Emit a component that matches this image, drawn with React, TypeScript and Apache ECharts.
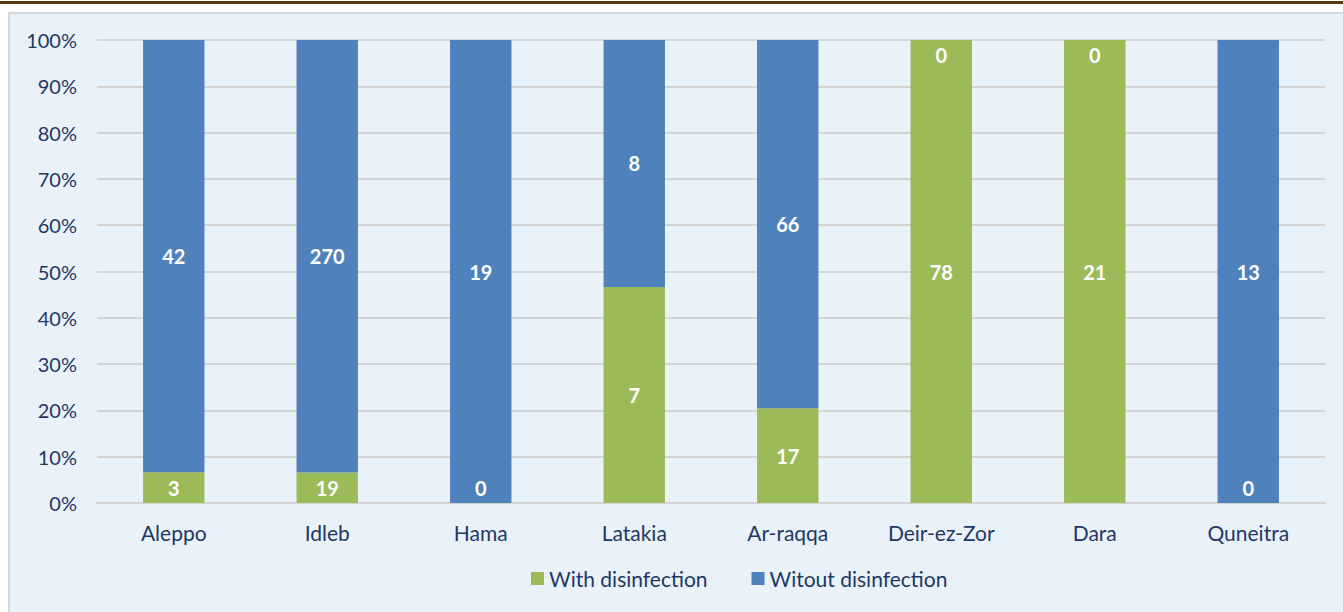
import React, { useEffect, useRef } from "react";
import * as echarts from "echarts";

const categories = ["Aleppo", "Idleb", "Hama", "Latakia", "Ar-raqqa", "Deir-ez-Zor", "Dara", "Quneitra"];
const withDisinfection = [3, 19, 0, 7, 17, 78, 21, 0];
const withoutDisinfection = [42, 270, 19, 8, 66, 0, 0, 13];
const yTicks = [0, 10, 20, 30, 40, 50, 60, 70, 80, 90, 100];

const GREEN = "#9bbb59";
const BLUE = "#4f81bd";
const TEXT = "#1f3864";
const FONT = "Lato, 'Open Sans', sans-serif";

function share(a: number, b: number) {
  const t = a + b;
  return t === 0 ? 0 : (a / t) * 100;
}

export default function App() {
  const ref = useRef<HTMLDivElement>(null);
  useEffect(() => {
    document.body.style.margin = "0";
    if (!ref.current) return;
    const chart = echarts.init(ref.current, undefined, { renderer: "svg" });
    const mk = (vals: number[], others: number[], zeroPos: string) =>
      vals.map((v, i) => ({
        value: share(v, others[i]),
        raw: v,
        label: v === 0 ? { position: zeroPos, distance: 5 } : undefined,
      }));
    const labelBase = {
      show: true,
      position: "inside",
      color: "#ffffff",
      fontWeight: "bold",
      fontSize: 20,
      fontFamily: FONT,
      formatter: (p: any) => String(p.data.raw),
    };
    chart.setOption({
      animation: false,
      grid: { left: 97, right: 18, top: 40, bottom: 109, containLabel: false },
      legend: {
        data: ["With disinfection", "Witout disinfection"],
        bottom: 18,
        left: 526,
        itemWidth: 13,
        itemHeight: 13,
        itemGap: 44,
        icon: "rect",
        textStyle: { color: TEXT, fontSize: 21, fontFamily: FONT },
      },
      xAxis: {
        type: "category",
        data: categories,
        axisTick: { show: false },
        axisLine: { lineStyle: { color: "#d4d4d4", width: 2 } },
        axisLabel: { color: TEXT, fontSize: 21, fontFamily: FONT, margin: 19 },
      },
      yAxis: {
        type: "value",
        min: 0,
        max: 100,
        interval: 10,
        axisLine: { show: false },
        axisTick: { show: false },
        splitLine: { lineStyle: { color: "#d4d4d4", width: 2 } },
        axisLabel: {
          color: TEXT,
          fontSize: 20,
          fontFamily: FONT,
          margin: 20,
          formatter: (v: number) => (yTicks.includes(v) ? v + "%" : ""),
        },
      },
      series: [
        {
          name: "With disinfection",
          type: "bar",
          stack: "s",
          barCategoryGap: "60%",
          itemStyle: { color: GREEN },
          label: labelBase,
          data: mk(withDisinfection, withoutDisinfection, "top"),
        },
        {
          name: "Witout disinfection",
          type: "bar",
          stack: "s",
          barCategoryGap: "60%",
          itemStyle: { color: BLUE },
          label: labelBase,
          data: mk(withoutDisinfection, withDisinfection, "insideTop"),
        },
      ],
    });
    return () => chart.dispose();
  }, []);
  return (
    <div style={{ position: "relative", width: 1343, height: 612, background: "#ffffff", overflow: "hidden" }}>
      <div style={{ position: "absolute", left: 0, top: 1, width: 1343, height: 3, background: "#5b3511" }} />
      <div
        style={{
          position: "absolute",
          left: 8,
          top: 12,
          width: 1343,
          height: 612,
          background: "#e8f2f8",
          borderLeft: "2px solid #d9d9d9",
          borderTop: "2px solid #d9d9d9",
        }}
      />
      <div ref={ref} style={{ position: "absolute", left: 0, top: 0, width: 1343, height: 612 }} />
    </div>
  );
}
